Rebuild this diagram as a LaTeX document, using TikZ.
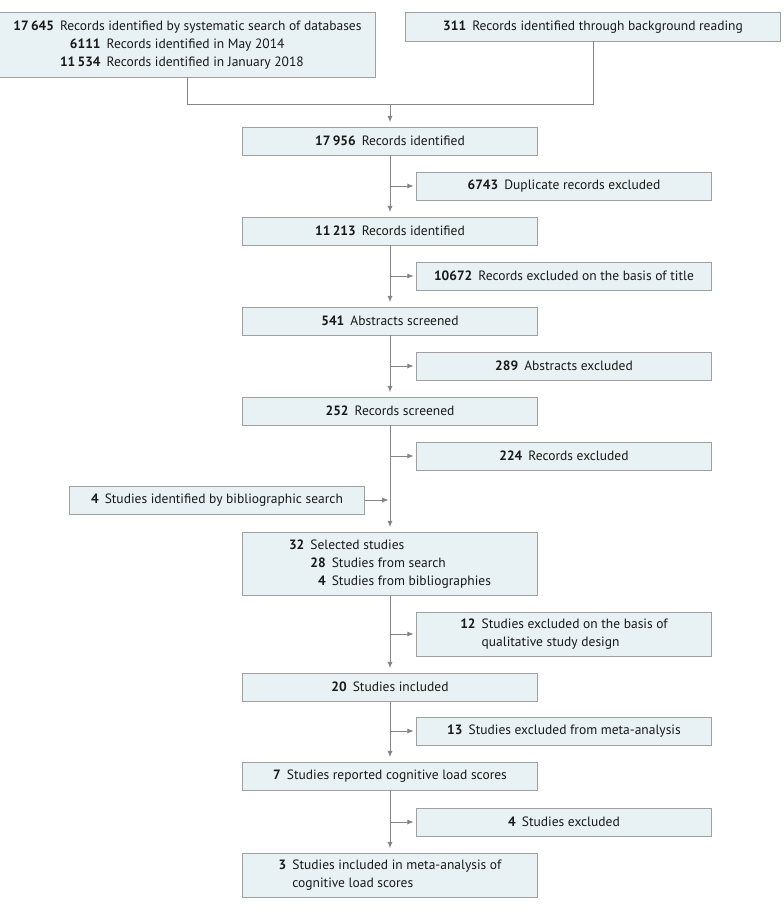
\documentclass[tikz,border=0pt]{standalone}
\usepackage{fontspec}
\setmainfont{PT Sans}
\usetikzlibrary{arrows.meta}
\definecolor{boxfill}{HTML}{E8F1F3}
\definecolor{boxline}{HTML}{A0A0A0}
\definecolor{flowline}{HTML}{858585}
\newcommand{\gp}{\hspace{0.45em}}

\begin{document}
\begin{tikzpicture}[x=0.025cm, y=-0.025cm,
    box/.style={draw=boxline, fill=boxfill, line width=0.7pt, inner sep=0pt,
      minimum width=7.35cm, minimum height=0.7cm, text=black!90,
      font=\fontsize{9.6pt}{12.8pt}\selectfont},
    flow/.style={draw=flowline, line width=0.7pt},
    flowarrow/.style={flow, -{Latex[length=1.6mm,width=1.3mm]}, shorten >=3pt}]
  \useasboundingbox (0,0) rectangle (783,911);
      % Sources
      \node[box, minimum width=9.375cm, minimum height=1.6cm] (A) at (187.5,45) {%
        \begin{tabular}{@{}r@{\gp}r@{\gp}l@{}}
          \textbf{17\,645} & \multicolumn{2}{@{}l@{}}{Records identified by systematic search of databases}\\
          & \textbf{6111} & Records identified in May 2014\\
          & \textbf{11\,534} & Records identified in January 2018
        \end{tabular}};
      \node[box, minimum width=9.35cm] (B) at (593,27) {\textbf{311}\gp Records identified through background reading};
      % Main column
      \node[box] (C) at (390,141) {\textbf{17\,956}\gp Records identified};
      \node[box] (E) at (390,231) {\textbf{11\,213}\gp Records identified};
      \node[box] (G) at (390,321) {\textbf{541}\gp Abstracts screened};
      \node[box] (I) at (390,411) {\textbf{252}\gp Records screened};
      \node[box, minimum height=1.575cm] (L) at (390,563.5) {%
        \begin{tabular}{@{}r@{\gp}r@{\gp}l@{}}
          \textbf{32} & \multicolumn{2}{@{}l@{}}{Selected studies}\\
          & \textbf{28} & Studies from search\\
          & \textbf{4} & Studies from bibliographies
        \end{tabular}};
      \node[box] (N) at (390,687) {\textbf{20}\gp Studies included};
      \node[box] (P) at (390,776) {\textbf{7}\gp Studies reported cognitive load scores};
      \node[box, minimum height=1.1cm] (R) at (390,875) {%
        \begin{tabular}{@{}r@{\gp}l@{}}
          \textbf{3} & Studies included in meta-analysis of\\
          & cognitive load scores
        \end{tabular}};
      % Exclusions
      \node[box] (D) at (564,186) {\textbf{6743}\gp Duplicate records excluded};
      \node[box] (F) at (564,276) {\textbf{10672}\gp Records excluded on the basis of title};
      \node[box] (H) at (564,366) {\textbf{289}\gp Abstracts excluded};
      \node[box] (J) at (564,456) {\textbf{224}\gp Records excluded};
      \node[box, minimum height=1.1cm] (M) at (564,634) {%
        \begin{tabular}{@{}r@{\gp}l@{}}
          \textbf{12} & Studies excluded on the basis of\\
          & qualitative study design
        \end{tabular}};
      \node[box] (O) at (564,731) {\textbf{13}\gp Studies excluded from meta-analysis};
      \node[box] (Q) at (564,822) {\textbf{4}\gp Studies excluded};
      % Extra source
      \node[box] (K) at (217,500) {\textbf{4}\gp Studies identified by bibliographic search};
      % Connectors
      \coordinate (join) at (390,104);
      \draw[flow] (A.south) |- (join);
      \draw[flow] (B.south) |- (join);
      \draw[flowarrow] (join) -- (C.north);
      \draw[flowarrow] (C) -- (E);
      \draw[flowarrow] (E) -- (G);
      \draw[flowarrow] (G) -- (I);
      \draw[flowarrow] (I) -- (L);
      \draw[flowarrow] (L) -- (N);
      \draw[flowarrow] (N) -- (P);
      \draw[flowarrow] (P) -- (R);
      \draw[flowarrow, shorten >=2pt] (C.south |- D.west) -- (D.west);
      \draw[flowarrow, shorten >=2pt] (E.south |- F.west) -- (F.west);
      \draw[flowarrow, shorten >=2pt] (G.south |- H.west) -- (H.west);
      \draw[flowarrow, shorten >=2pt] (I.south |- J.west) -- (J.west);
      \draw[flowarrow, shorten >=2pt] (L.south |- M.west) -- (M.west);
      \draw[flowarrow, shorten >=2pt] (N.south |- O.west) -- (O.west);
      \draw[flowarrow, shorten >=2pt] (P.south |- Q.west) -- (Q.west);
      \draw[flowarrow, shorten >=1pt] (K.east) -- (K.east -| I.south);
    \end{tikzpicture}
\end{document}
